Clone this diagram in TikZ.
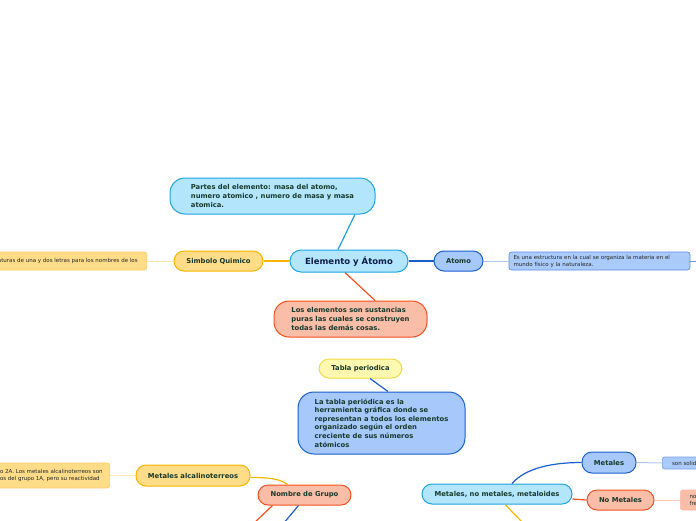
\documentclass[tikz,border=0pt]{standalone}
\usepackage{fontspec}
\setmainfont{DejaVu Sans}
\usetikzlibrary{positioning}

\definecolor{celeste}{HTML}{B3E5FC}
\definecolor{celesteborde}{HTML}{1EA3E3}
\definecolor{azul}{HTML}{A6C8FA}
\definecolor{azulborde}{HTML}{1A5FD0}
\definecolor{amarillo}{HTML}{FFDC88}
\definecolor{amarilloborde}{HTML}{F8B400}
\definecolor{salmon}{HTML}{F9BDA8}
\definecolor{salmonborde}{HTML}{F4511E}
\definecolor{limon}{HTML}{FFF8B0}
\definecolor{limonborde}{HTML}{EEDB45}
\definecolor{textoverde}{HTML}{173A2C}
\definecolor{textoazul}{HTML}{0F1E4E}

\begin{document}
\begin{tikzpicture}[x=1pt, y=-1pt,
  tema/.style={draw, line width=1pt, rounded corners=10pt, inner sep=0pt,
    font=\bfseries\fontsize{6.8}{8.6}\selectfont, text=textoverde, align=center},
  nota/.style={draw, line width=0.7pt, rounded corners=2.5pt, inner ysep=0pt,
    font=\fontsize{5.5}{7}\selectfont, text=black!85, align=left},
  enlace/.style={line width=1.2pt},
  tenue/.style={line width=1pt}]

\useasboundingbox (0,0) rectangle (696,520);
\clip (0,0) rectangle (696,520);

% central topic
\node[tema, fill=celeste, draw=celesteborde, text=textoazul,
  font=\bfseries\fontsize{8.5}{10}\selectfont,
  minimum width=118pt, minimum height=22pt, rounded corners=11pt]
  (central) at (349,261) {Elemento y Átomo};

% upper branches
\node[tema, fill=celeste, draw=celesteborde, align=left,
  minimum width=205pt, minimum height=36pt, rounded corners=15pt]
  (partes) at (272.5,196)
  {Partes del elemento: masa del atomo,\\numero atomico , numero de masa y masa\\atomica.};
\node[tema, fill=amarillo, draw=amarilloborde, minimum width=89pt, minimum height=20pt]
  (simbolo) at (218.5,261) {Simbolo Quimico};
\node[nota, fill=amarillo, draw=amarillo!80!orange, anchor=east,
  minimum height=18pt, inner xsep=9pt]
  (simbolonota) at (147,261) {aturas de una y dos letras para los nombres de los};
\node[tema, fill=azul, draw=azulborde, minimum width=49pt, minimum height=20pt]
  (atomo) at (458.5,261) {Atomo};
\node[nota, fill=azul!95!white, draw=azulborde!70!white, text width=172pt,
  inner xsep=4.5pt, minimum height=18pt]
  (atomonota) at (599.5,261)
  {Es una estructura en la cual se organiza la materia en el\\mundo físico y la naturaleza.};
\node[tema, fill=salmon, draw=salmonborde, align=left,
  minimum width=153pt, minimum height=36pt, rounded corners=15pt]
  (sustancias) at (350.5,319)
  {Los elementos son sustancias\\puras las cuales se construyen\\todas las demás cosas.};

% tabla periodica
\node[tema, fill=limon, draw=limonborde, minimum width=83pt, minimum height=19pt]
  (tabla) at (360.5,368.5) {Tabla periodica};
\node[tema, fill=azul, draw=azulborde, align=left,
  minimum width=167pt, minimum height=62pt, rounded corners=16pt]
  (tablanota) at (381.5,423)
  {La tabla periódica es la\\herramienta gráfica donde se\\representan a todos los elementos\\organizado según el orden\\creciente de sus números\\atómicos};

% lower left
\node[tema, fill=amarillo, draw=amarilloborde, minimum width=114pt, minimum height=21pt]
  (alcalino) at (193,475.5) {Metales alcalinoterreos};
\node[nota, fill=amarillo, draw=amarillo!80!orange, anchor=east,
  minimum height=25pt, inner xsep=7pt]
  (alcalinonota) at (110,475.5)
  {o 2A. Los metales alcalinoterreos son\\os del grupo 1A, pero su reactividad};
\node[tema, fill=salmon, draw=salmonborde, minimum width=93pt, minimum height=20pt]
  (grupo) at (304.5,495) {Nombre de Grupo};

% lower right
\node[tema, fill=celeste, draw=celesteborde, minimum width=150pt, minimum height=20pt]
  (clases) at (497,494) {Metales, no metales, metaloides};
\node[tema, fill=azul, draw=azulborde, minimum width=54pt, minimum height=21pt]
  (metales) at (609,462.5) {Metales};
\node[nota, fill=azul!95!white, draw=azulborde!60!white, anchor=west,
  minimum height=12pt, minimum width=50pt, inner xsep=4pt]
  (metalesnota) at (662,463) {son solidos};
\node[tema, fill=salmon, draw=salmonborde, minimum width=67pt, minimum height=20pt]
  (nometales) at (620.5,500) {No Metales};
\node[nota, fill=salmon, draw=salmonborde!40!white, anchor=west,
  minimum height=20pt, minimum width=30pt, inner xsep=4pt]
  (nometalesnota) at (680,500) {no s\\frec};

% free ends leaving the page
\coordinate (fuera1) at (702,261);
\coordinate (fuera2) at (253,524);
\coordinate (fuera3) at (283,524);
\coordinate (fuera4) at (524,524);

% connectors
\draw[enlace, celesteborde] ([xshift=-11pt]central.north)
  .. controls +(6,-12) and +(-6,12) .. ([xshift=82.5pt]partes.south);
\draw[enlace, amarilloborde] (central.west) -- (simbolo.east);
\draw[tenue, amarillo!70!white] (simbolo.west) -- (simbolonota.east);
\draw[enlace, azulborde] (central.east) -- (atomo.west);
\draw[tenue, azulborde!35!white] (atomo.east) -- (atomonota.west);
\draw[tenue, azulborde!65!white] (atomonota.east) -- (fuera1);
\draw[enlace, salmonborde] ([xshift=-4pt]central.south) -- ([xshift=24.5pt]sustancias.north);
\draw[enlace, azulborde] ([xshift=9.5pt]tabla.south) -- ([xshift=6.5pt]tablanota.north);
\draw[tenue, amarillo!70!white] (alcalino.west) -- (alcalinonota.east);
\draw[enlace, amarilloborde] ([yshift=-2pt]alcalino.east)
  .. controls +(18,0) and +(-8,-6) .. ([xshift=-17pt]grupo.north);
\draw[enlace, salmonborde] ([xshift=-32pt]grupo.south) -- (fuera2);
\draw[enlace, azulborde] ([xshift=-6pt]grupo.south) -- (fuera3);
\draw[enlace, azulborde] ([xshift=15pt]clases.north)
  .. controls +(14,-16) and +(-28,0) .. (metales.west);
\draw[enlace, salmonborde] ([yshift=-5pt]clases.east) -- (nometales.west);
\draw[enlace, amarilloborde] ([xshift=8pt]clases.south) -- (fuera4);
\draw[tenue, azulborde!35!white] (metales.east) -- (metalesnota.west);
\draw[tenue, salmonborde!35!white] (nometales.east) -- (nometalesnota.west);

\end{tikzpicture}
\end{document}
